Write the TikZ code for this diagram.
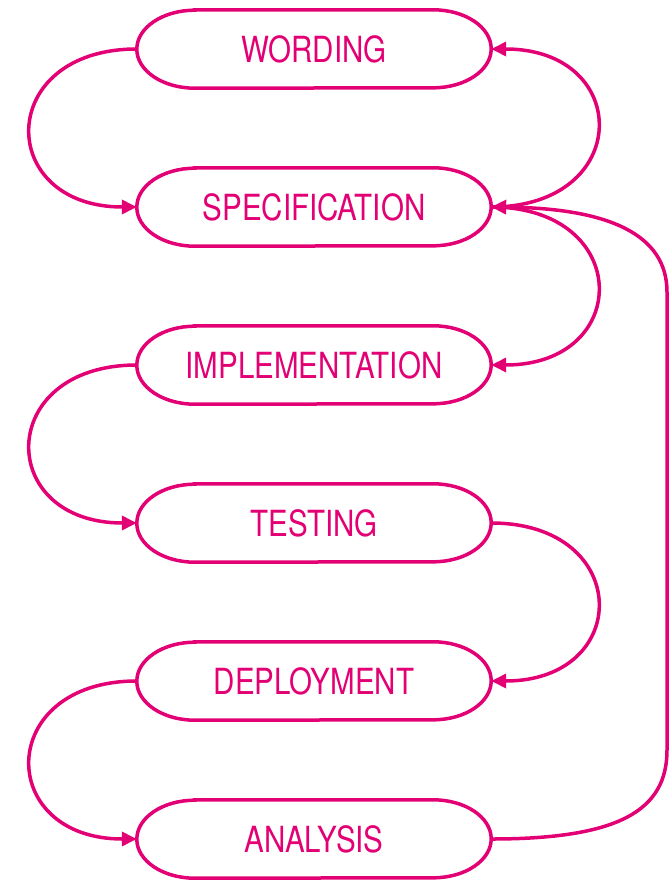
\documentclass[tikz,border=0pt]{standalone}
\usepackage{fontspec}
\setmainfont[FakeStretch=0.82]{TeX Gyre Heros}
\usetikzlibrary{arrows.meta}
\definecolor{tmagenta}{HTML}{E20074}

\begin{document}
\begin{tikzpicture}[x=1pt, y=-1pt,
    stage/.style={minimum width=354pt, minimum height=78pt, text=tmagenta,
        font=\fontsize{36}{40}\selectfont, inner sep=0pt},
    outline/.style={draw=tmagenta, line width=3.5pt},
    flow/.style={draw=tmagenta, line width=3.5pt,
        -{Triangle[length=15pt,width=14pt]}},
    loop/.style={looseness=2.3}]
            \useasboundingbox (0,0) rectangle (670,880);

            \node[stage] (wording) at (314,49) {WORDING};
            \node[stage] (spec) at (314,207) {SPECIFICATION};
            \node[stage] (impl) at (314,365) {IMPLEMENTATION};
            \node[stage] (test) at (314,523) {TESTING};
            \node[stage] (deploy) at (314,681) {DEPLOYMENT};
            \node[stage] (analysis) at (314,839) {ANALYSIS};

            % pill outlines with flattened ends
            \foreach \n in {wording, spec, impl, test, deploy, analysis}
                \draw[outline] ([xshift=58pt]\n.north west) -- ([xshift=-58pt]\n.north east)
                    arc[start angle=90, end angle=-90, x radius=58pt, y radius=39pt]
                    -- ([xshift=58pt]\n.south west)
                    arc[start angle=270, end angle=90, x radius=58pt, y radius=39pt] -- cycle;

            \coordinate (back low) at (667,750);
            \coordinate (back high) at (667,292);

            \draw[flow, loop] (wording.west) to[out=180, in=180] (spec.west);
            \draw[flow, loop] (spec.east) to[out=0, in=0] (wording.east);
            \draw[flow, loop] (spec.east) to[out=0, in=0] (impl.east);
            \draw[flow, loop] (impl.west) to[out=180, in=180] (test.west);
            \draw[flow, loop] (test.east) to[out=0, in=0] (deploy.east);
            \draw[flow, loop] (deploy.west) to[out=180, in=180] (analysis.west);

            \draw[flow] (analysis.east) .. controls (620,839) and (667,810) .. (back low)
                -- (back high) .. controls (667,235) and (610,208) .. (spec.east);
        \end{tikzpicture}
\end{document}
